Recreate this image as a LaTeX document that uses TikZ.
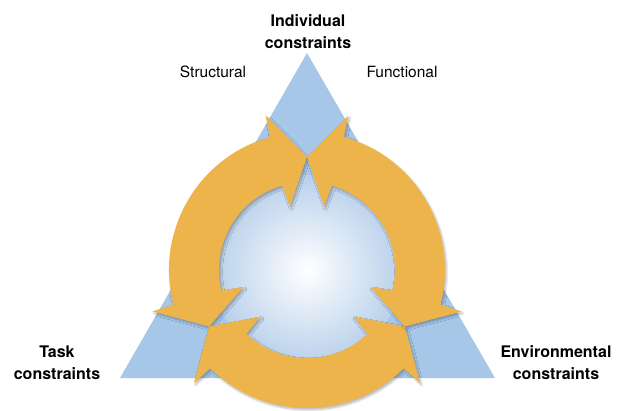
\documentclass[tikz,border=0pt]{standalone}
\usepackage{fontspec}
\setmainfont{TeX Gyre Heros}
\usetikzlibrary{shadows.blur}
\definecolor{triblue}{RGB}{166,199,232}
\definecolor{diskblue}{RGB}{184,208,235}
\definecolor{ringorange}{RGB}{238,180,76}
\tikzset{
  corner/.style={align=center, font=\fontsize{16}{22}\selectfont\bfseries},
  side/.style={font=\fontsize{15.5}{18}\selectfont},
  ringarrow/.style={fill=ringorange, draw=none,
    blur shadow={shadow xshift=1.5pt, shadow yshift=-2pt, shadow blur steps=6, shadow opacity=28}}
}
% one double-headed arc of the ring, tips at #1 and #2 degrees
\newcommand{\cyclearrow}[2]{%
  \fill[ringarrow] (#1:113pt) -- (#1+15:160pt) -- (#1+15.5:138pt)
    arc[start angle=#1+15.5, end angle=#2-15.5, radius=138pt]
    -- (#2-15:160pt) -- (#2:113pt) -- (#2-15:66pt) -- (#2-16.5:88pt)
    arc[start angle=#2-16.5, end angle=#1+16.5, radius=88pt]
    -- (#1+15:66pt) -- cycle;}

\begin{document}
\begin{tikzpicture}[x=1pt, y=1pt]
  \useasboundingbox (0,0) rectangle (624,410);
  \fill[triblue] (120,32) -- (307,357) -- (495,32) -- cycle;
  \shade[inner color=white, outer color=diskblue] (307,140) circle[radius=95pt];

  \begin{scope}[shift={(307,140)}]
    \cyclearrow{90}{210}
    \cyclearrow{210}{330}
    \cyclearrow{-30}{90}
  \end{scope}

  \node[corner] (indiv) at (308,378) {Individual\\constraints};
  \node[side] (struct) at (213,338) {Structural};
  \node[side] (func) at (402,338) {Functional};
  \node[corner] (task) at (57,47) {Task\\constraints};
  \node[corner] (env) at (556,47) {Environmental\\constraints};
\end{tikzpicture}
\end{document}
